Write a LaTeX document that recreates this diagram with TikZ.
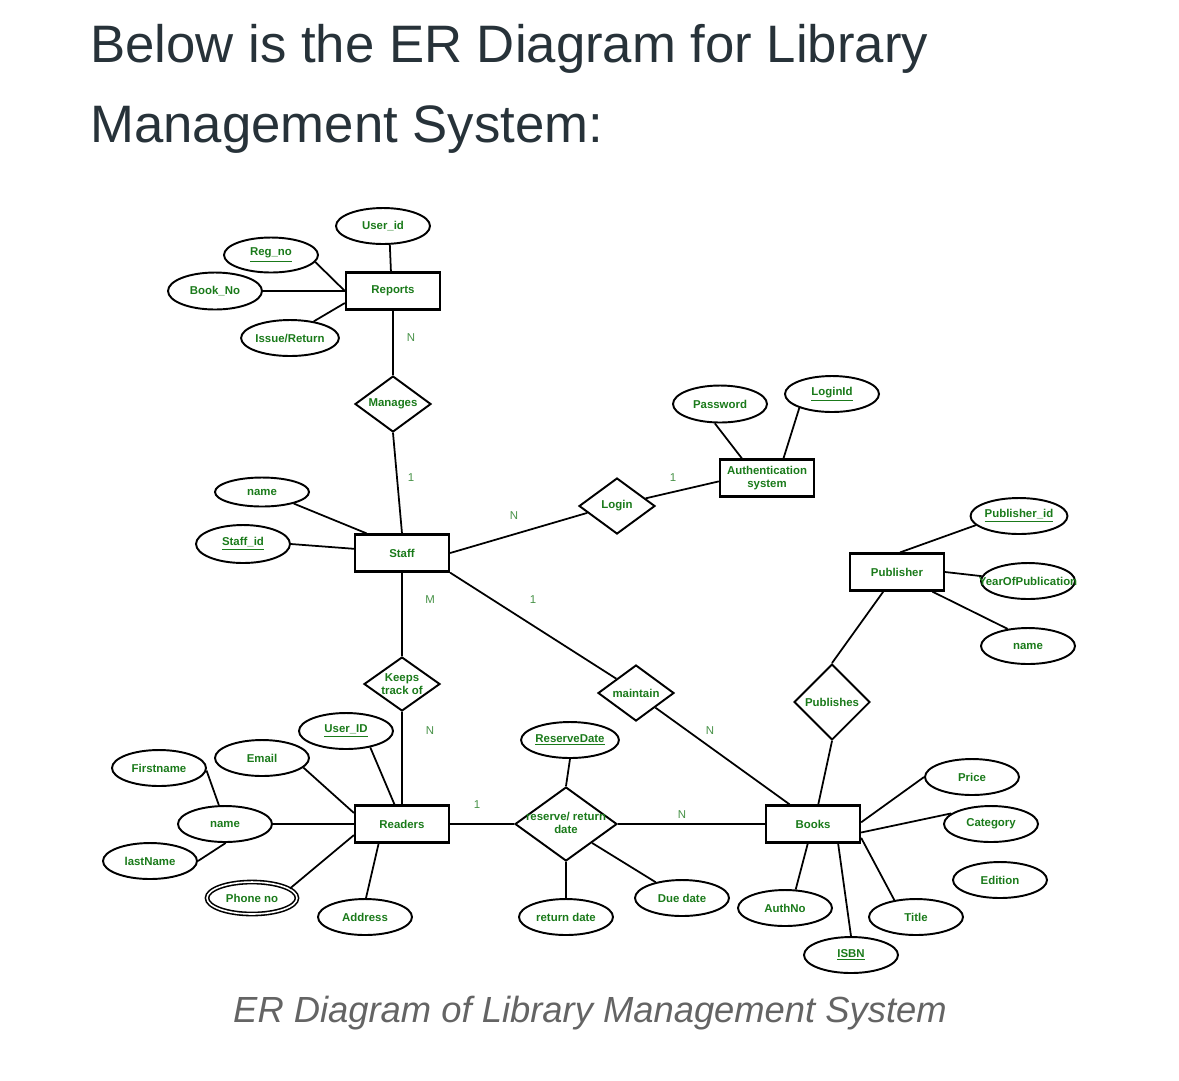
\documentclass[tikz,border=0pt]{standalone}
\usepackage{fontspec}
\setmainfont{Liberation Sans}
\usetikzlibrary{shapes.geometric}

\definecolor{ergreen}{RGB}{26,122,26}
\definecolor{numgreen}{RGB}{70,145,70}
\definecolor{headgray}{RGB}{39,50,57}
\definecolor{capgray}{RGB}{100,100,100}

\tikzset{
	erfont/.style={font=\bfseries\fontsize{6.5}{7.4}\selectfont, text=ergreen},
	entity/.style={erfont, draw, rectangle, line width=1.3pt, minimum width=1.88cm, minimum height=0.74cm, inner sep=0pt, align=center},
	attr/.style={erfont, draw, ellipse, line width=1.1pt, minimum width=1.88cm, minimum height=0.72cm, inner sep=0pt},
	multi/.style={attr, double, double distance=0.9pt, line width=0.9pt, minimum width=1.8cm, minimum height=0.64cm},
	rel/.style={erfont, draw, diamond, aspect=1.35, line width=1.1pt, minimum width=1.52cm, minimum height=1.12cm, inner sep=0pt, align=center},
	link/.style={line width=1pt},
	card/.style={font=\fontsize{6.5}{7.4}\selectfont, text=numgreen},
}

\begin{document}
\begin{tikzpicture}[x=0.02cm, y=-0.02cm]

	\useasboundingbox (0,0) rectangle (1179,1080);

	% heading and caption
	\node[anchor=base west, inner sep=0pt, text=headgray, font=\fontsize{30}{36}\selectfont] (head1) at (90,62) {Below is the ER Diagram for Library};
	\node[anchor=base west, inner sep=0pt, text=headgray, font=\fontsize{30}{36}\selectfont] (head2) at (90,142) {Management System:};
	\node[anchor=base, inner sep=0pt, text=capgray, font=\itshape\fontsize{20.7}{25}\selectfont] (caption) at (590,1022) {ER Diagram of Library Management System};

	% entities
	\node[entity] (reports)   at (393,291) {Reports};
	\node[entity] (auth)      at (767,478) {Authentication\\system};
	\node[entity] (staff)     at (402,553) {Staff};
	\node[entity] (publisher) at (897,572) {Publisher};
	\node[entity] (readers)   at (402,824) {Readers};
	\node[entity] (books)     at (813,824) {Books};

	% relationships
	\node[rel] (manages)  at (393,404) {Manages};
	\node[rel] (login)    at (617,506) {Login};
	\node[rel, minimum height=1.08cm] (keeps) at (402,684) {Keeps\\track of};
	\node[rel] (maintain) at (636,693) {maintain};
	\node[rel, aspect=1, minimum height=1.52cm] (publishes) at (832,702) {Publishes};
	\node[rel, minimum width=2.04cm, minimum height=1.48cm] (reserve) at (566,824)
		{\makebox[0pt]{\begin{tabular}{@{}c@{}}reserve/ return\\date\end{tabular}}};

	% attributes
	\node[attr] (userid)   at (383,226) {User\_id};
	\node[attr, minimum height=0.70cm] (regno) at (271,255) {\underline{Reg\_no}};
	\node[attr, minimum height=0.74cm] (bookno) at (215,291) {Book\_No};
	\node[attr] (issue)    at (290,338) {Issue/Return};
	\node[attr, minimum height=0.74cm] (password) at (720,404) {Password};
	\node[attr] (loginid)  at (832,394) {\underline{LoginId}};
	\node[attr, minimum height=0.58cm] (staffname) at (262,492) {name};
	\node[attr, minimum height=0.76cm] (staffid) at (243,544) {\underline{Staff\_id}};
	\node[attr] (pubid)    at (1019,516) {\underline{Publisher\_id}};
	\node[attr] (year)     at (1028,581) {\makebox[0pt]{YearOfPublication}};
	\node[attr] (pubname)  at (1028,646) {name};
	\node[attr] (firstname) at (159,768) {Firstname};
	\node[attr] (email)    at (262,758) {Email};
	\node[attr] (userid2)  at (346,731) {\underline{User\_ID}};
	\node[attr] (rname)    at (225,824) {name};
	\node[attr] (lastname) at (150,861) {lastName};
	\node[multi] (phone)   at (252,898) {Phone no};
	\node[attr] (address)  at (365,917) {Address};
	\node[attr] (resdate)  at (570,740) {\underline{ReserveDate}};
	\node[attr] (retdate)  at (566,917) {return date};
	\node[attr] (duedate)  at (682,898) {Due date};
	\node[attr] (authno)   at (785,908) {AuthNo};
	\node[attr] (isbn)     at (851,955) {\underline{ISBN}};
	\node[attr] (title)    at (916,917) {Title};
	\node[attr] (price)    at (972,777) {Price};
	\node[attr] (category) at (991,824) {Category};
	\node[attr] (edition)  at (1000,880) {Edition};

	% reports
	\draw[link] (userid.-70) -- (reports.96);
	\draw[link] (regno.-9) -- (reports.west);
	\draw[link] (bookno.east) -- (reports.west);
	\draw[link] (issue.35) -- (reports.194);
	\draw[link] (reports.south) -- (manages.north);

	% staff
	\draw[link] (manages.south) -- (staff.north);
	\draw[link] (staffname.-20) -- (staff.151);
	\draw[link] (staffid.east) -- (staff.175);
	\draw[link] (staff.east) -- (login.193);
	\draw[link] (staff.south) -- (keeps.north);
	\draw[link] (staff.south east) -- (maintain.144);

	% authentication
	\draw[link] (login.15) -- (auth.184);
	\draw[link] (password.-105) -- (auth.142);
	\draw[link] (loginid.203) -- (auth.50);

	% publisher
	\draw[link] (publisher.81) -- (pubid.192);
	\draw[link] (publisher.east) -- (year.174);
	\draw[link] (publisher.-29) -- (pubname.140);
	\draw[link] (publisher.235) -- (publishes.north);

	% readers
	\draw[link] (keeps.south) -- (readers.north);
	\draw[link] (firstname.-3) -- (rname.108);
	\draw[link] (lastname.east) -- (rname.-88);
	\draw[link] (rname.east) -- (readers.west);
	\draw[link] (email.-13) -- (readers.167);
	\draw[link] (userid2.-34) -- (readers.111);
	\draw[link] (phone.14) -- (readers.193);
	\draw[link] (address.87) -- (readers.220);

	% reserve / return
	\draw[link] (readers.east) -- (reserve.west);
	\draw[link] (reserve.east) -- (books.west);
	\draw[link] (resdate.south) -- (reserve.north);
	\draw[link] (reserve.south) -- (retdate.north);
	\draw[link] (reserve.-36) -- (duedate.149);

	% books
	\draw[link] (maintain.-37) -- (books.140);
	\draw[link] (publishes.south) -- (books.75);
	\draw[link] (books.2) -- (price.west);
	\draw[link] (books.-10) -- (category.165);
	\draw[link] (books.-16) -- (title.142);
	\draw[link] (books.-105) -- (authno.60);
	\draw[link] (books.-38) -- (isbn.north);

	% cardinalities
	\node[card] (cmanN)  at (411,338) {N};
	\node[card] (cman1)  at (411,478) {1};
	\node[card] (clogN)  at (514,516) {N};
	\node[card] (clog1)  at (673,478) {1};
	\node[card] (ckeepM) at (430,600) {M};
	\node[card] (cmnt1)  at (533,600) {1};
	\node[card] (ckeepN) at (430,731) {N};
	\node[card] (cmntN)  at (710,731) {N};
	\node[card] (cres1)  at (477,805) {1};
	\node[card] (cresN)  at (682,815) {N};

\end{tikzpicture}
\end{document}
